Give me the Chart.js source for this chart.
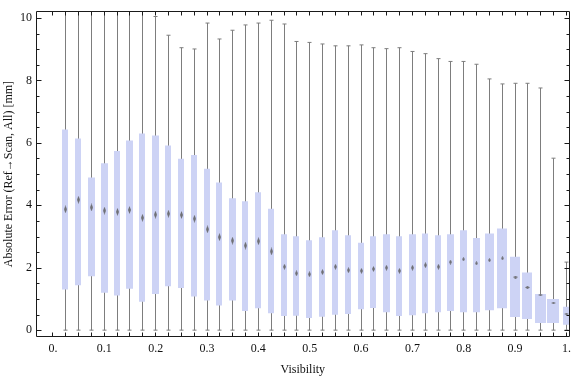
<!DOCTYPE html>
<html>
<head>
<meta charset="utf-8">
<script src="https://cdn.jsdelivr.net/npm/chart.js@4"></script>
<style>
body { margin: 0; background: #fff; }
</style>
</head>
<body>
<canvas id="box" width="576" height="377"></canvas>
<script>
var visibility = [0.025, 0.05, 0.075, 0.1, 0.125, 0.15, 0.175, 0.2, 0.225, 0.25,
    0.275, 0.3, 0.325, 0.35, 0.375, 0.4, 0.425, 0.45, 0.475, 0.5,
    0.525, 0.55, 0.575, 0.6, 0.625, 0.65, 0.675, 0.7, 0.725, 0.75,
    0.775, 0.8, 0.825, 0.85, 0.875, 0.9, 0.925, 0.95, 0.975, 1.0];
var whiskerLow = [0, 0, 0, 0, 0, 0, 0, 0, 0, 0,
    0, 0, 0, 0, 0, 0, 0, 0, 0, 0,
    0, 0, 0, 0, 0, 0, 0, 0, 0, 0,
    0, 0, 0, 0, 0, 0, 0, 0, 0, 0];
var q1 = [1.30, 1.44, 1.73, 1.20, 1.11, 1.33, 0.91, 1.16, 1.41, 1.35,
    1.08, 0.95, 0.79, 0.95, 0.61, 0.70, 0.54, 0.45, 0.46, 0.39,
    0.43, 0.49, 0.52, 0.67, 0.71, 0.57, 0.45, 0.48, 0.54, 0.57,
    0.61, 0.57, 0.57, 0.64, 0.70, 0.42, 0.36, 0.23, 0.23, 0.17];
var median = [3.87, 4.18, 3.93, 3.83, 3.79, 3.85, 3.60, 3.70, 3.73, 3.69,
    3.57, 3.23, 2.98, 2.87, 2.71, 2.85, 2.52, 2.03, 1.82, 1.79,
    1.86, 2.03, 1.92, 1.90, 1.96, 2.00, 1.90, 2.00, 2.08, 2.03,
    2.18, 2.27, 2.14, 2.24, 2.30, 1.70, 1.37, 1.11, 0.87, 0.52];
var q3 = [6.43, 6.14, 4.89, 5.35, 5.74, 6.08, 6.30, 6.24, 5.92, 5.49,
    5.61, 5.17, 4.73, 4.23, 4.13, 4.42, 3.89, 3.07, 3.01, 2.88,
    2.98, 3.20, 3.04, 2.80, 3.01, 3.07, 3.01, 3.07, 3.10, 3.04,
    3.07, 3.20, 2.95, 3.10, 3.26, 2.35, 1.85, 1.16, 1.00, 0.75];
var whiskerHigh = [11, 11, 11, 11, 11, 11, 11, 10.05, 9.45, 9.05,
    9.01, 9.84, 9.33, 9.61, 9.78, 9.84, 9.93, 9.81, 9.25, 9.22,
    9.17, 9.11, 9.11, 9.14, 9.05, 9.02, 9.05, 8.93, 8.86, 8.70,
    8.61, 8.61, 8.52, 8.05, 7.89, 7.91, 7.91, 7.76, 5.51, 2.18];
var xTickLabels = ["0.", "0.1", "0.2", "0.3", "0.4", "0.5", "0.6", "0.7", "0.8", "0.9", "1."];
var yTickLabels = ["0", "2", "4", "6", "8", "10"];

// box widths and median marker heights in px, they change from box to box in the original
var boxPx = [6, 6, 7, 7, 6, 7, 6, 7, 6, 6,
    6, 6, 6, 7, 6, 6, 6, 6, 6, 6,
    6, 6, 6, 6, 6, 7, 6, 7, 6, 6,
    7, 7, 7, 9, 10, 10, 10, 11, 12, 7];
var markPx = [8, 8, 8, 8, 8, 8, 8, 8, 8, 8,
    8, 8, 8, 8, 8, 8, 8, 6, 6, 6,
    6, 6, 6, 6, 6, 6, 6, 6, 6, 6,
    5, 4, 4, 4, 4, 3, 3, 2, 2, 2];

Chart.defaults.font.family = "'Liberation Serif', 'Times New Roman', serif";
Chart.defaults.font.size = 12;
Chart.defaults.color = "#111";

var markCache = {};
function diamond(h) {
    if (markCache[h]) return markCache[h];
    var w = h <= 3 ? 5 : 3;
    var c = document.createElement("canvas");
    c.width = w;
    c.height = h;
    var g = c.getContext("2d");
    g.fillStyle = "rgba(95, 95, 95, 0.85)";
    g.beginPath();
    g.moveTo(w / 2, 0);
    g.lineTo(w, h / 2);
    g.lineTo(w / 2, h);
    g.lineTo(0, h / 2);
    g.closePath();
    g.fill();
    markCache[h] = c;
    return c;
}

function pts(ys) {
    return visibility.map(function (v, i) { return {x: v, y: ys[i]}; });
}

// snap whiskers and boxes to whole pixels and give each box its width
var boxWidths = {
    id: "boxWidths",
    afterDatasetUpdate: function (chart, args) {
        var els = args.meta.data;
        if (args.index === 1) {
            els.forEach(function (el, i) {
                el.width = boxPx[i];
                el.x = Math.floor(el.x) + (boxPx[i] % 2 ? 0.5 : 0);
            });
        } else {
            els.forEach(function (el) { el.x = Math.floor(el.x) + 0.5; });
        }
    }
};

var frameTicks = {
    id: "frameTicks",
    afterDatasetsDraw: function (chart) {
        var ctx = chart.ctx, a = chart.chartArea;
        var xs = chart.scales.x, ys = chart.scales.y;
        var L = Math.round(a.left) + 0.5, R = Math.round(a.right) - 0.5;
        var T = Math.round(a.top) + 0.5, B = Math.round(a.bottom) - 0.5;
        ctx.save();
        ctx.strokeStyle = "#1a1a1a";
        ctx.lineWidth = 1;
        ctx.beginPath();
        xs.ticks.forEach(function (t) {
            if (t.value < 0) return;
            var px = Math.floor(xs.getPixelForValue(t.value)) + 0.5;
            ctx.moveTo(px, B); ctx.lineTo(px, B - 4);
            ctx.moveTo(px, T); ctx.lineTo(px, T + 4);
        });
        ys.ticks.forEach(function (t) {
            var len = Math.abs(t.value / 2 - Math.round(t.value / 2)) < 1e-6 ? 5 : 3;
            var py = Math.round(ys.getPixelForValue(t.value)) + 0.5;
            ctx.moveTo(L, py); ctx.lineTo(L + len, py);
            ctx.moveTo(R, py); ctx.lineTo(R - len, py);
        });
        ctx.moveTo(L, T); ctx.lineTo(R, T); ctx.lineTo(R, B); ctx.lineTo(L, B); ctx.closePath();
        ctx.stroke();
        ctx.restore();
    }
};

var chart = new Chart(document.getElementById("box"), {
    type: "bar",
    data: {
        datasets: [
            {
                // whiskers
                data: visibility.map(function (v, i) { return {x: v, y: [whiskerLow[i], whiskerHigh[i]]}; }),
                backgroundColor: "#7d7d7d",
                barThickness: 1,
                inflateAmount: 0,
                grouped: false,
                order: 4
            },
            {
                // boxes
                data: visibility.map(function (v, i) { return {x: v, y: [q1[i], q3[i]]}; }),
                backgroundColor: "#cdd3f5",
                barThickness: 6,
                inflateAmount: 0,
                grouped: false,
                order: 3
            },
            {
                // caps
                type: "line",
                data: pts(whiskerHigh).concat(pts(whiskerLow)),
                showLine: false,
                pointStyle: "line",
                pointRadius: 2,
                pointBorderColor: "#7d7d7d",
                pointBorderWidth: 1,
                order: 2
            },
            {
                // medians
                type: "line",
                data: pts(median),
                showLine: false,
                pointStyle: function (c) { return diamond(markPx[c.dataIndex]); },
                pointRadius: 3,
                order: 1
            }
        ]
    },
    options: {
        responsive: false,
        animation: false,
        layout: { padding: { top: 4, right: 2, left: 0, bottom: 0 } },
        plugins: {
            legend: { display: false },
            tooltip: { enabled: false }
        },
        scales: {
            x: {
                type: "linear",
                min: -0.033,
                max: 1.006,
                offset: false,
                grid: { display: false, drawTicks: false },
                border: { display: false },
                ticks: {
                    stepSize: 0.025,
                    includeBounds: false,
                    autoSkip: false,
                    maxRotation: 0,
                    padding: 5,
                    callback: function (value) {
                        var k = Math.round(value * 10);
                        if (value < 0 || Math.abs(value * 10 - k) > 1e-6) return "";
                        return xTickLabels[k];
                    }
                },
                title: { display: true, text: "Visibility", padding: { top: 1, bottom: 0 } },
                afterFit: function (s) { s.height = 40; }
            },
            y: {
                min: -0.22,
                max: 10.22,
                grid: { display: false, drawTicks: false },
                border: { display: false },
                ticks: {
                    stepSize: 0.5,
                    includeBounds: false,
                    autoSkip: false,
                    padding: 4,
                    callback: function (value) {
                        var k = Math.round(value / 2);
                        if (Math.abs(value / 2 - k) > 1e-6) return "";
                        return yTickLabels[k];
                    }
                },
                title: { display: true, text: "Absolute Error (Ref\u2192Scan, All) [mm]", padding: { top: 1.5, bottom: 0 } },
                afterFit: function (s) { s.width = 36; }
            }
        }
    },
    plugins: [boxWidths, frameTicks]
});
</script>
</body>
</html>
